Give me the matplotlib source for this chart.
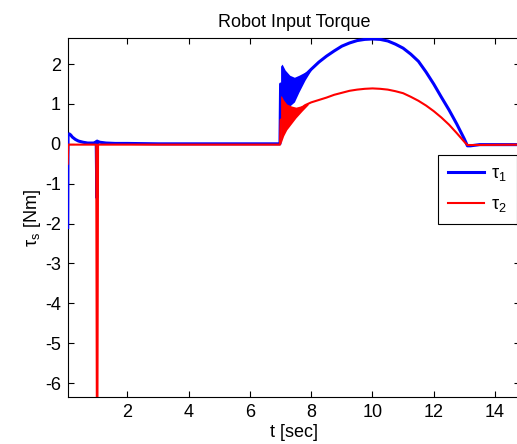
import matplotlib
matplotlib.use('Agg')
from matplotlib import pyplot as plt

plt.rcParams['font.family'] = ['Liberation Sans', 'DejaVu Sans']
plt.rcParams['mathtext.fontset'] = 'custom'
plt.rcParams['mathtext.rm'] = 'Liberation Sans'
plt.rcParams['mathtext.it'] = 'Liberation Sans'
plt.rcParams['axes.unicode_minus'] = False

# tau_1 (blue) - centre line
t1 = [0.05, 0.06, 0.1, 0.15, 0.2, 0.3, 0.4, 0.55, 0.7, 0.9, 0.98, 1.0, 1.01, 1.03,
      1.1, 1.3, 1.6, 2.0, 3.0, 5.0, 6.98, 7.0, 7.2, 7.4, 7.6, 7.8, 8.0, 8.25, 8.5,
      8.75, 9.0, 9.25, 9.5, 9.75, 10.0, 10.25, 10.5, 10.75, 11.0, 11.25, 11.5,
      11.75, 12.0, 12.25, 12.5, 12.75, 13.0, 13.1, 13.2, 13.5, 14.0, 14.85]
tau1 = [-2.1, 0.2, 0.25, 0.22, 0.17, 0.11, 0.07, 0.04, 0.02, 0.02, 0.05, -1.35, 0.07, 0.06,
        0.04, 0.02, 0.01, 0.01, 0.0, 0.0, 0.0, 1.5, 1.5, 1.4, 1.55, 1.72, 1.87, 2.05, 2.2,
        2.33, 2.45, 2.53, 2.59, 2.62, 2.63, 2.62, 2.58, 2.5, 2.4, 2.25, 2.07,
        1.8, 1.5, 1.17, 0.85, 0.5, 0.12, -0.05, -0.05, -0.02, -0.02, -0.02]

# tau_2 (red)
t2 = [0.05, 0.07, 0.98, 1.0, 1.02, 1.04, 3.0, 6.98, 7.0, 7.2, 7.4, 7.6, 7.8, 8.0,
      8.25, 8.5, 8.75, 9.0, 9.25, 9.5, 9.75, 10.0, 10.25, 10.5, 10.75, 11.0, 11.25,
      11.5, 11.75, 12.0, 12.25, 12.5, 12.75, 13.0, 13.1, 13.3, 14.85]
tau2 = [-0.5, -0.02, -0.02, -6.5, -6.5, -0.02, -0.02, -0.02, 0.6, 0.7, 0.8, 0.86, 0.97, 1.04,
        1.1, 1.16, 1.23, 1.28, 1.33, 1.36, 1.38, 1.39, 1.38, 1.36, 1.32, 1.27, 1.18,
        1.08, 0.96, 0.82, 0.66, 0.48, 0.27, 0.05, -0.03, -0.03, -0.02]

# oscillation envelopes after the step at t = 7 s
band1_t = [7.0, 7.05, 7.15, 7.3, 7.45, 7.6, 7.8, 8.0]
band1_hi = [1.95, 2.0, 1.85, 1.72, 1.67, 1.72, 1.8, 1.88]
band1_lo = [0.5, 0.8, 0.9, 0.95, 1.05, 1.3, 1.6, 1.85]
band2_t = [7.0, 7.03, 7.1, 7.2, 7.35, 7.5, 7.7, 7.9]
band2_hi = [1.2, 1.2, 1.1, 1.0, 0.95, 0.92, 0.96, 1.02]
band2_lo = [0.0, 0.05, 0.2, 0.35, 0.5, 0.65, 0.82, 0.98]

fig = plt.figure(figsize=(5.17, 4.44), dpi=100)
ax = fig.add_axes([0.131, 0.105, 0.875, 0.809])

ax.fill_between(band1_t, band1_lo, band1_hi, color='#0000ff', lw=0, zorder=2)
ax.plot(t1, tau1, color='#0000ff', lw=2.2, label=r'τ$_1$', zorder=3)
ax.fill_between(band2_t, band2_lo, band2_hi, color='#ff0000', lw=0, zorder=4)
ax.plot(t2, tau2, color='#ff0000', lw=1.5, label=r'τ$_2$', zorder=5)

ax.set_xlim(0.05, 14.82)
ax.set_ylim(-6.36, 2.65)
ax.set_xticks([2, 4, 6, 8, 10, 12, 14])
ax.set_yticks([-6, -5, -4, -3, -2, -1, 0, 1, 2])
ax.tick_params(direction='in', top=True, right=True, length=4, labelsize=13, pad=5)
ax.set_title('Robot Input Torque', fontsize=13, pad=8)
ax.set_xlabel('t [sec]', fontsize=13, labelpad=2)
ax.set_ylabel(r'τ$_s$ [Nm]', fontsize=13, labelpad=1)

leg = ax.legend(loc='upper right', bbox_to_anchor=(516.7 / 517, 1 - 155 / 444),
                bbox_transform=fig.transFigure, borderaxespad=0, fancybox=False,
                framealpha=1, edgecolor='black', fontsize=13, handlelength=2.0,
                handletextpad=0.4, labelspacing=0.75, borderpad=0.55)
leg.get_frame().set_linewidth(0.8)

fig.savefig('out.png', dpi=100)
